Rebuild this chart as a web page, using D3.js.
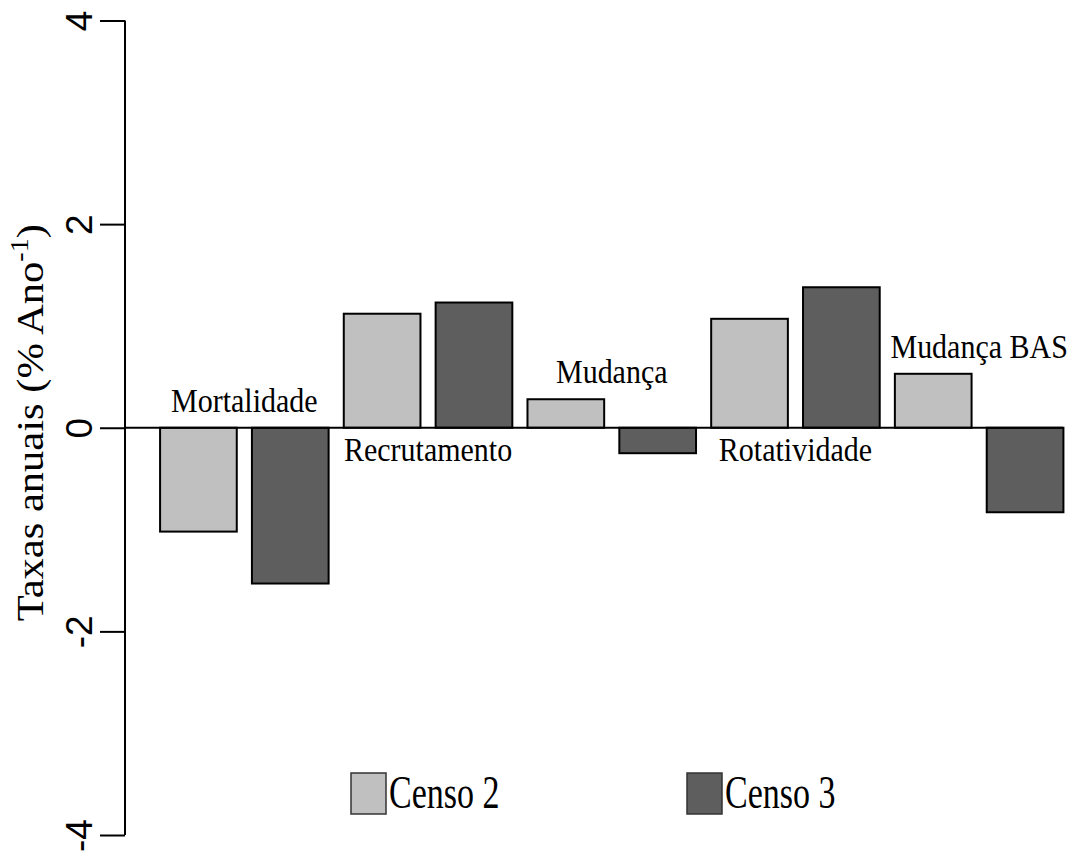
<!DOCTYPE html>
<html>
<head>
<meta charset="utf-8">
<script src="https://cdn.jsdelivr.net/npm/d3@7"></script>
<style>
  html, body { margin: 0; padding: 0; background: #fff; }
  svg { display: block; }
</style>
</head>
<body>
<svg id="chart" width="1083" height="854"></svg>
<script>
// Annual demographic rates per census
const categories = ["Mortalidade", "Recrutamento", "Mudança", "Rotatividade", "Mudança BAS"];
const series = ["Censo 2", "Censo 3"];
const censo2 = [-1.02, 1.12, 0.28, 1.07, 0.53];
const censo3 = [-1.53, 1.23, -0.25, 1.38, -0.83];
const yTicks = [-4, -2, 0, 2, 4];
const colors = ["#c0c0c0", "#5e5e5e"];

const svg = d3.select("#chart");
const serif = "'Liberation Serif', 'Times New Roman', serif";
const sans = "'Liberation Sans', Arial, sans-serif";

const y = d3.scaleLinear().domain([-4, 4]).range([835, 20.5]);
const x0 = d3.scaleBand().domain(categories).range([152.5, 1071]).paddingInner(0).paddingOuter(0);
const x1 = d3.scaleBand().domain(series).range([0, x0.bandwidth()]).paddingInner(0.165).paddingOuter(0.0825);
const color = d3.scaleOrdinal().domain(series).range(colors);

const rows = categories.map((c, i) => ({ cat: c, vals: [censo2[i], censo3[i]] }));

// Bars
const groups = svg.append("g").selectAll("g")
  .data(rows).join("g")
  .attr("transform", d => `translate(${x0(d.cat)},0)`);

groups.selectAll("rect")
  .data(d => series.map((s, j) => ({ s, v: d.vals[j] })))
  .join("rect")
  .attr("x", d => x1(d.s))
  .attr("width", x1.bandwidth())
  .attr("y", d => y(Math.max(0, d.v)))
  .attr("height", d => Math.abs(y(d.v) - y(0)))
  .attr("fill", d => color(d.s))
  .attr("stroke", "#000")
  .attr("stroke-width", 2);

// Zero line
svg.append("line")
  .attr("x1", 125).attr("x2", x0.range()[1] - 8)
  .attr("y1", y(0)).attr("y2", y(0))
  .attr("stroke", "#000").attr("stroke-width", 2);

// Y axis (plain hyphen for negative labels)
const axis = svg.append("g").attr("transform", "translate(125,0)")
  .call(d3.axisLeft(y).tickValues(yTicks).tickSize(25).tickSizeOuter(0).tickFormat(d => String(d)));
axis.select(".domain").attr("stroke-width", 2).attr("d", `M0,${y(-4)}V${y(4)}`);
axis.selectAll(".tick line").attr("stroke-width", 2);
axis.selectAll(".tick text")
  .attr("font-family", sans).attr("font-size", 37).attr("fill", "#000")
  .attr("text-anchor", "middle")
  .attr("x", null).attr("dy", null)
  .attr("transform", "translate(-33,0) rotate(-90)");

// Y axis title
const title = svg.append("text")
  .attr("transform", `translate(43,${(y(-2) + y(2)) / 2 - 5}) rotate(-90) scale(1.12,1)`)
  .attr("text-anchor", "middle")
  .attr("font-family", serif).attr("font-size", 38).attr("fill", "#000");
title.append("tspan").text("Taxas anuais (% Ano");
title.append("tspan").attr("font-size", 25).attr("dy", -15).text("-1");
title.append("tspan").attr("dy", 15).text(")");

// Category labels
svg.append("g").selectAll("text")
  .data(rows).join("text")
  .attr("transform", d => {
    const cx = x0(d.cat) + x0.bandwidth() / 2;
    const lo = Math.min(...d.vals), hi = Math.max(...d.vals);
    const by = lo >= 0 ? y(0) + 33 : y(Math.max(0, hi)) - 16;
    return `translate(${cx},${by}) scale(1,1.1)`;
  })
  .attr("text-anchor", "middle")
  .attr("font-family", serif).attr("font-size", 30).attr("fill", "#000")
  .text(d => d.cat);

// Legend
const legendX = [351, 687];
const leg = svg.append("g").selectAll("g")
  .data(series).join("g")
  .attr("transform", (d, i) => `translate(${legendX[i]},773)`);
leg.append("rect")
  .attr("width", 35).attr("height", 41)
  .attr("fill", d => color(d))
  .attr("stroke", "#333").attr("stroke-width", 1.5);
leg.append("text")
  .attr("transform", "translate(38,35) scale(1,1.38)")
  .attr("font-family", serif).attr("font-size", 34).attr("fill", "#000")
  .text(d => d);
</script>
</body>
</html>
